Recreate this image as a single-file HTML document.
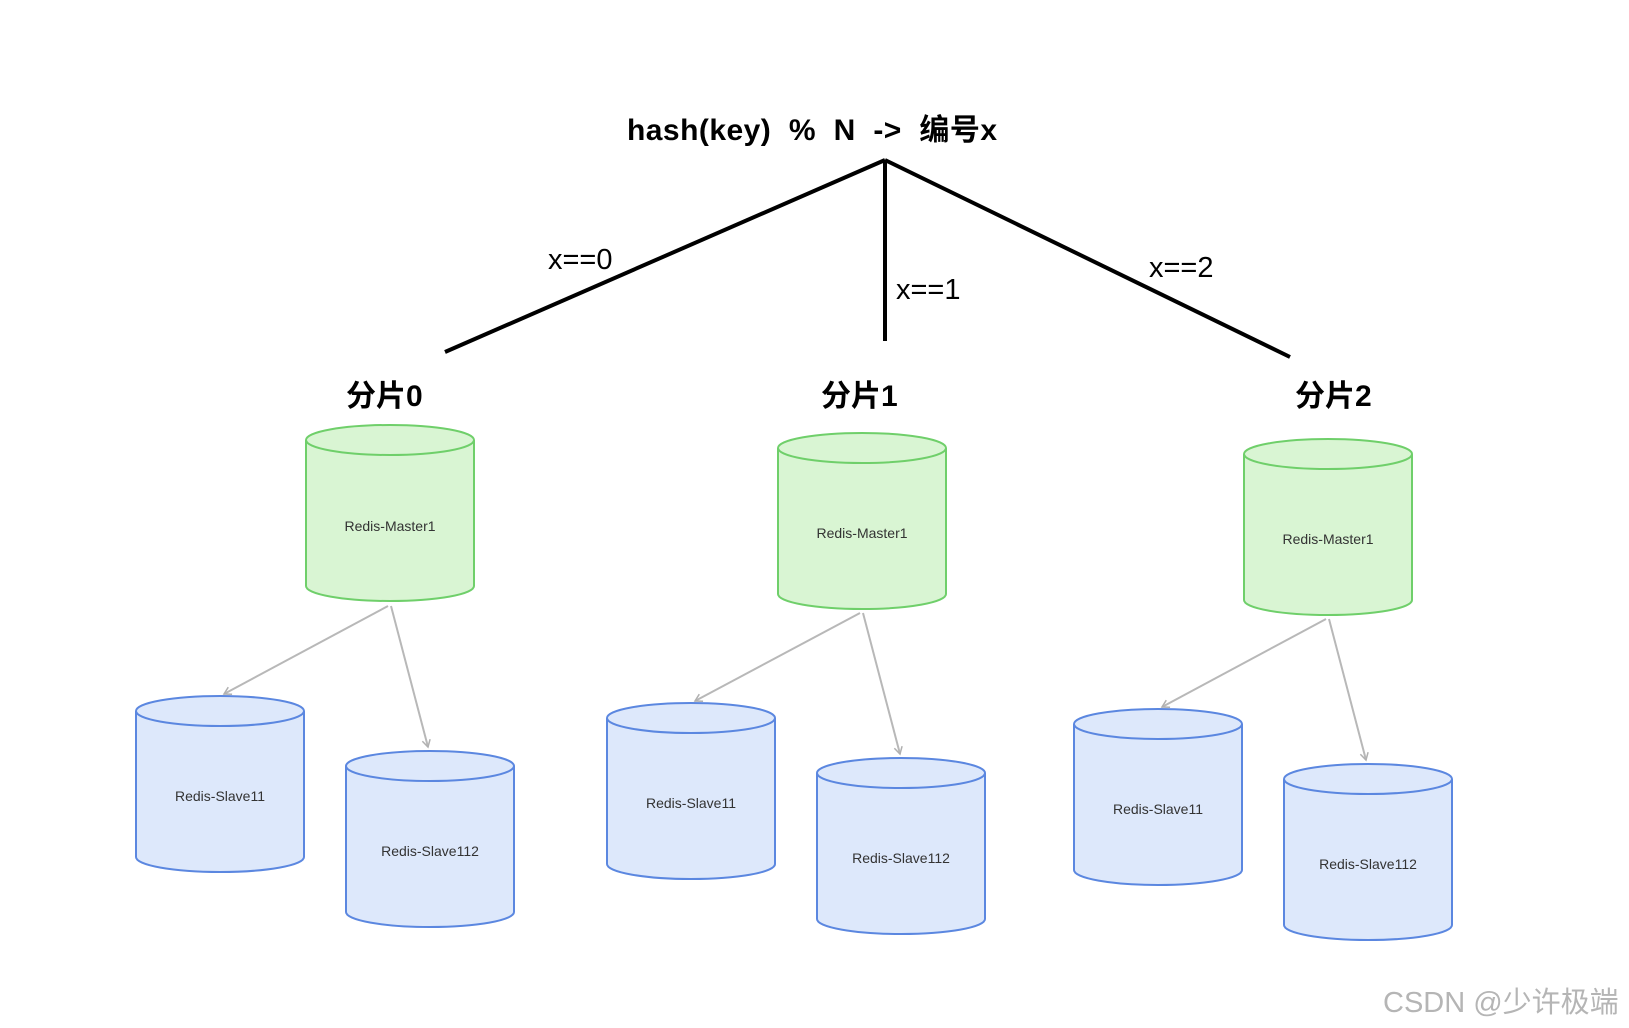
<!DOCTYPE html>
<html><head><meta charset="utf-8"><style>
html,body{margin:0;padding:0;background:#fff;}
svg{display:block;}
text{font-family:"Liberation Sans","Noto Sans CJK SC",sans-serif;}
</style></head><body>
<svg width="1629" height="1028" viewBox="0 0 1629 1028" xmlns="http://www.w3.org/2000/svg">
<defs>
<g id="mcyl">
<path d="M0 15 L0 161 A84 15 0 0 0 168 161 L168 15" fill="#d9f5d3" stroke="#6fcf6a" stroke-width="2"/>
<ellipse cx="84" cy="15" rx="84" ry="15" fill="#d9f5d3" stroke="#6fcf6a" stroke-width="2"/>
</g>
<g id="scyl">
<path d="M0 15 L0 161 A84 15 0 0 0 168 161 L168 15" fill="#dde8fb" stroke="#5b87e0" stroke-width="2"/>
<ellipse cx="84" cy="15" rx="84" ry="15" fill="#dde8fb" stroke="#5b87e0" stroke-width="2"/>
</g>
<marker id="ah" markerWidth="10" markerHeight="10" refX="8" refY="5" orient="auto" markerUnits="userSpaceOnUse">
<path d="M1 1 L8 5 L1 9" fill="none" stroke="#b0b0b0" stroke-width="1.5"/>
</marker>
</defs>

<text x="627" y="140" font-size="30" font-weight="bold" fill="#000" textLength="370" lengthAdjust="spacing" xml:space="preserve">hash(key)  %  N  -&gt;  编号x</text>

<g stroke="#000" stroke-width="4" fill="none">
<line x1="885" y1="160" x2="445" y2="352"/>
<line x1="885" y1="160" x2="885" y2="341"/>
<line x1="885" y1="160" x2="1290" y2="357"/>
</g>
<text x="548" y="269" font-size="29" fill="#000">x==0</text>
<text x="896" y="299" font-size="29" fill="#000">x==1</text>
<text x="1149" y="277" font-size="29" fill="#000">x==2</text>

<text x="346" y="406" font-size="30" font-weight="bold" fill="#000">分片0</text>
<text x="821" y="406" font-size="30" font-weight="bold" fill="#000">分片1</text>
<text x="1295" y="406" font-size="30" font-weight="bold" fill="#000">分片2</text>

<use href="#mcyl" x="306" y="425"/>
<use href="#mcyl" x="778" y="433"/>
<use href="#mcyl" x="1244" y="439"/>
<use href="#scyl" x="136" y="696"/>
<use href="#scyl" x="346" y="751"/>
<use href="#scyl" x="607" y="703"/>
<use href="#scyl" x="817" y="758"/>
<use href="#scyl" x="1074" y="709"/>
<use href="#scyl" x="1284" y="764"/>

<g stroke="#b8b8b8" stroke-width="2" fill="none" marker-end="url(#ah)">
<line x1="388" y1="606" x2="224" y2="694"/>
<line x1="391" y1="606" x2="428" y2="747"/>
<line x1="860" y1="613" x2="695" y2="701"/>
<line x1="863" y1="613" x2="900" y2="754"/>
<line x1="1326" y1="619" x2="1162" y2="707"/>
<line x1="1329" y1="619" x2="1366" y2="760"/>
</g>

<g font-size="14" fill="#333" text-anchor="middle">
<text x="390" y="531">Redis-Master1</text>
<text x="862" y="538">Redis-Master1</text>
<text x="1328" y="544">Redis-Master1</text>
<text x="220" y="801">Redis-Slave11</text>
<text x="430" y="856">Redis-Slave112</text>
<text x="691" y="808">Redis-Slave11</text>
<text x="901" y="863">Redis-Slave112</text>
<text x="1158" y="814">Redis-Slave11</text>
<text x="1368" y="869">Redis-Slave112</text>
</g>

<text x="1383" y="1012" font-size="29" fill="#b5b5b5">CSDN @少许极端</text>
</svg>
</body></html>
